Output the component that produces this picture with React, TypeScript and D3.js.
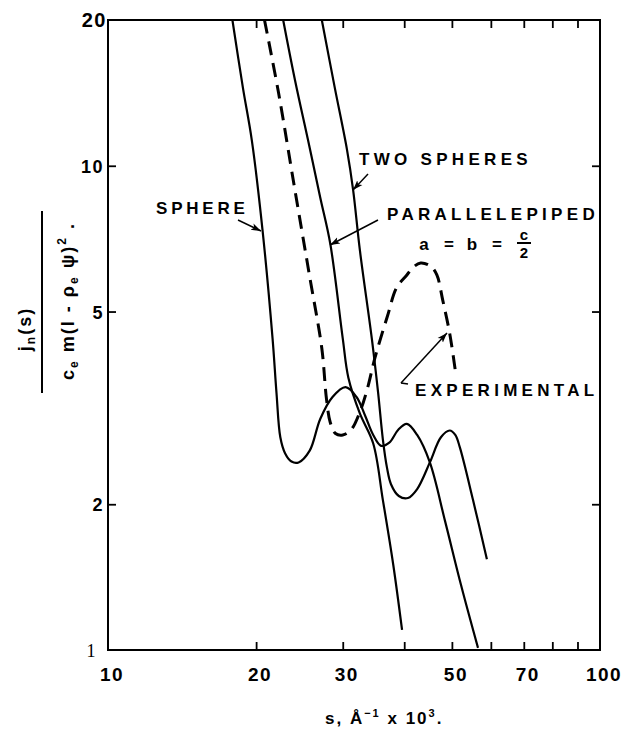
import React, { useEffect, useRef } from 'react';
import * as d3 from 'd3';

// curves: [s (Å^-1 x 10^3), j_n(s)/...]
const sphere: [number, number][] = [
  [17.9, 20], [18.8, 14.5], [19.6, 11.3], [20.6, 7.4], [21.6, 4.4], [22.0, 3.4],
  [22.4, 2.75], [22.9, 2.55], [23.6, 2.45], [24.4, 2.44], [25.7, 2.58], [27.0, 3.0],
  [28.6, 3.33], [30.4, 3.49], [32.0, 3.33], [33.3, 3.05], [34.6, 2.78], [35.9, 2.64],
  [37.3, 2.68], [38.9, 2.85], [40.5, 2.93], [42.5, 2.78], [45.1, 2.44], [48.4, 1.85],
  [52.2, 1.36], [56.5, 1.01],
];

const twoSpheres: [number, number][] = [
  [27.2, 20], [28.9, 14.5], [30.6, 10.8], [31.5, 8.9], [32.5, 6.7], [34.4, 4.37],
  [35.4, 3.4], [36.2, 2.72], [36.9, 2.38], [37.6, 2.2], [39.0, 2.08], [40.7, 2.06],
  [42.5, 2.15], [45.1, 2.44], [47.5, 2.75], [49.5, 2.84], [50.8, 2.78], [51.9, 2.62],
  [55.2, 2.04], [58.9, 1.54],
];

const parallelepiped: [number, number][] = [
  [22.7, 20], [24.0, 15.0], [25.5, 11.3], [27.0, 8.6], [28.3, 6.9], [30.0, 4.4],
  [30.8, 3.65], [32.5, 3.08], [34.6, 2.67], [36.2, 2.04], [38.0, 1.5], [39.6, 1.1],
];

const experimental: [number, number][] = [
  [20.8, 20], [22.2, 14.2], [23.9, 9.1], [25.7, 5.9], [27.2, 4.2], [27.8, 3.3],
  [28.3, 2.95], [29.0, 2.8], [30.0, 2.78], [31.2, 2.85], [32.5, 3.1], [33.6, 3.44],
  [34.9, 4.02], [37.0, 4.9], [38.6, 5.6], [40.5, 5.95], [41.7, 6.17], [43.2, 6.3],
  [45.3, 6.2], [46.6, 5.95], [47.9, 5.28], [49.5, 4.5], [50.8, 3.78],
];

const xTicks = [20, 30, 40, 50, 60, 70, 80, 90];
const xLabels = [10, 20, 30, 50, 70, 100];
const yTicks = [10, 5, 2];
const yLabels = [20, 10, 5, 2, 1];

const font = '"Liberation Sans", Arial, sans-serif';

const App = () => {
  const ref = useRef<SVGSVGElement>(null);

  useEffect(() => {
    const svg = d3.select(ref.current);
    svg.selectAll('*').remove();

    const left = 108, right = 600, top = 20, bottom = 650;
    const x = d3.scaleLog().domain([10, 100]).range([left, right]);
    const y = d3.scaleLog().domain([1, 20]).range([bottom, top]);

    svg.append('rect').attr('width', 622).attr('height', 730).attr('fill', '#fff');

    const defs = svg.append('defs');
    defs.append('marker')
      .attr('id', 'arr')
      .attr('viewBox', '0 0 10 10')
      .attr('refX', 10).attr('refY', 5)
      .attr('markerWidth', 10).attr('markerHeight', 10)
      .attr('markerUnits', 'userSpaceOnUse')
      .attr('orient', 'auto')
      .append('path').attr('d', 'M0,1.5 L10,5 L0,8.5 L2.5,5 Z').attr('fill', '#000');

    // frame
    svg.append('rect')
      .attr('x', left).attr('y', top)
      .attr('width', right - left).attr('height', bottom - top)
      .attr('fill', 'none').attr('stroke', '#000').attr('stroke-width', 2);

    // inward ticks on all four sides
    const tickLen = 8;
    const axes = [
      d3.axisBottom(x).tickValues(xTicks).tickSize(-tickLen),
      d3.axisTop(x).tickValues(xTicks).tickSize(-tickLen),
      d3.axisLeft(y).tickValues(yTicks).tickSize(-tickLen),
      d3.axisRight(y).tickValues(yTicks).tickSize(-tickLen),
    ];
    const offs = [`translate(0,${bottom})`, `translate(0,${top})`, `translate(${left},0)`, `translate(${right},0)`];
    axes.forEach((a, i) => {
      const g = svg.append('g').attr('transform', offs[i]).call(a.tickFormat(() => '').tickSizeOuter(0));
      g.select('.domain').remove();
      g.selectAll('line').attr('stroke', '#000').attr('stroke-width', 1.8);
    });

    // tick labels
    svg.append('g').selectAll('text').data(xLabels).enter().append('text')
      .attr('x', d => x(d) + 4).attr('y', 681)
      .attr('text-anchor', 'middle')
      .attr('font-family', font).attr('font-weight', 'bold').attr('font-size', 19)
      .attr('letter-spacing', 1.5)
      .text(d => d);

    svg.append('g').selectAll('text').data(yLabels).enter().append('text')
      .attr('x', d => (d === 1 ? 97 : d === 20 ? 107 : 104))
      .attr('y', d => y(d) + 7)
      .attr('text-anchor', 'end')
      .attr('font-family', d => (d === 1 ? '"Liberation Serif", serif' : font))
      .attr('font-weight', d => (d === 1 ? 'normal' : 'bold'))
      .attr('font-size', d => (d === 20 ? 20 : 18))
      .attr('letter-spacing', 1.5)
      .text(d => d);

    // curves
    const line = d3.line<[number, number]>()
      .x(d => x(d[0]))
      .y(d => y(d[1]))
      .curve(d3.curveCatmullRom.alpha(0.5));

    [sphere, twoSpheres, parallelepiped].forEach(c => {
      svg.append('path').datum(c)
        .attr('d', line)
        .attr('fill', 'none').attr('stroke', '#000').attr('stroke-width', 2.2)
        .attr('stroke-linejoin', 'round');
    });
    svg.append('path').datum(experimental)
      .attr('d', line)
      .attr('fill', 'none').attr('stroke', '#000').attr('stroke-width', 3)
      .attr('stroke-dasharray', '14,8');

    // annotations
    const label = (txt: string, tx: number, ty: number, ls = 4.3) =>
      svg.append('text')
        .attr('x', tx).attr('y', ty)
        .attr('font-family', font).attr('font-weight', 'bold')
        .attr('font-size', 17).attr('letter-spacing', ls)
        .text(txt);

    label('SPHERE', 156, 214, 3.8);
    label('TWO SPHERES', 359, 165);
    label('PARALLELEPIPED', 387, 220);
    label('EXPERIMENTAL', 415, 396);

    const arrow = (x1: number, y1: number, x2: number, y2: number) =>
      svg.append('line')
        .attr('x1', x1).attr('y1', y1).attr('x2', x2).attr('y2', y2)
        .attr('stroke', '#000').attr('stroke-width', 1.5)
        .attr('marker-end', 'url(#arr)');

    arrow(238, 220, 261, 231);
    arrow(368, 174, 353, 190);
    arrow(378, 220, 330, 245);
    arrow(401, 383, 447, 333);
    svg.append('line').attr('x1', 401).attr('y1', 383).attr('x2', 408).attr('y2', 384)
      .attr('stroke', '#000').attr('stroke-width', 1.5);

    // a = b = c/2
    const eq = svg.append('g').attr('font-family', font).attr('font-weight', 'bold').attr('font-size', 17);
    eq.append('text').attr('x', 424).attr('y', 250).attr('text-anchor', 'middle').text('a');
    eq.append('text').attr('x', 449).attr('y', 250).attr('text-anchor', 'middle').text('=');
    eq.append('text').attr('x', 472).attr('y', 250).attr('text-anchor', 'middle').text('b');
    eq.append('text').attr('x', 497).attr('y', 250).attr('text-anchor', 'middle').text('=');
    eq.append('text').attr('x', 524).attr('y', 240).attr('text-anchor', 'middle').attr('font-size', 15).text('c');
    eq.append('line').attr('x1', 517).attr('x2', 531).attr('y1', 243).attr('y2', 243).attr('stroke', '#000').attr('stroke-width', 2);
    eq.append('text').attr('x', 524).attr('y', 258).attr('text-anchor', 'middle').attr('font-size', 15).text('2');

    // y axis title (rotated fraction)
    const num = svg.append('text')
      .attr('transform', 'translate(31,329) rotate(-90)')
      .attr('text-anchor', 'middle')
      .attr('font-family', font).attr('font-weight', 'bold').attr('font-size', 18)
      .attr('letter-spacing', 2);
    num.append('tspan').text('j');
    num.append('tspan').attr('font-size', 12).attr('dy', 4).text('n');
    num.append('tspan').attr('dy', -4).text('(s)');

    svg.append('line').attr('x1', 42).attr('x2', 42).attr('y1', 211).attr('y2', 393)
      .attr('stroke', '#000').attr('stroke-width', 2);

    const den = svg.append('text')
      .attr('transform', 'translate(74,301) rotate(-90)')
      .attr('text-anchor', 'middle')
      .attr('font-family', font).attr('font-weight', 'bold').attr('font-size', 18)
      .attr('letter-spacing', 2);
    den.append('tspan').text('c');
    den.append('tspan').attr('font-size', 12).attr('dy', 4).text('e');
    den.append('tspan').attr('dy', -4).text(' m(l - ρ');
    den.append('tspan').attr('font-size', 12).attr('dy', 4).text('e');
    den.append('tspan').attr('dy', -4).text(' ψ)');
    den.append('tspan').attr('font-size', 12).attr('dy', -8).text('2');
    den.append('tspan').attr('dy', 8).text(' .');

    // x axis title
    const xt = svg.append('text')
      .attr('x', 325).attr('y', 724)
      .attr('font-family', font).attr('font-weight', 'bold').attr('font-size', 17)
      .attr('letter-spacing', 2);
    xt.append('tspan').text('s,  Å');
    xt.append('tspan').attr('font-size', 11).attr('dy', -7).text('−1');
    xt.append('tspan').attr('dy', 7).text('  x  10');
    xt.append('tspan').attr('font-size', 11).attr('dy', -7).text('3');
    xt.append('tspan').attr('dy', 7).text('.');
  }, []);

  return (
    <svg
      ref={ref}
      width={622}
      height={730}
      style={{ position: 'absolute', left: 0, top: 0 }}
    />
  );
};

export default App;
